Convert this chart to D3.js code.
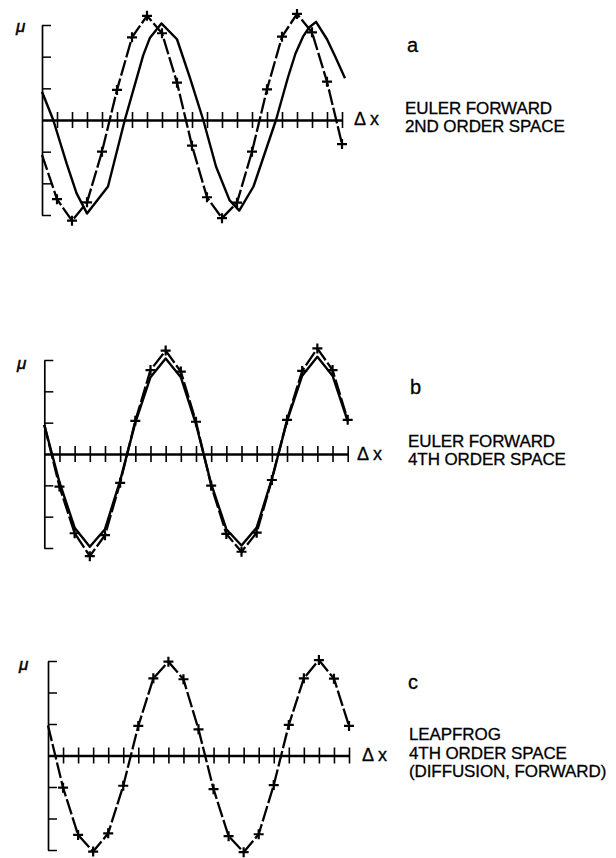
<!DOCTYPE html>
<html>
<head>
<meta charset="utf-8">
<script src="https://cdn.jsdelivr.net/npm/d3@7"></script>
<style>
  html, body { margin: 0; padding: 0; background: #fff; }
  svg { display: block; }
  text { font-family: "Liberation Sans", Arial, Helvetica, sans-serif; fill: #000; }
</style>
</head>
<body>
<svg id="chart" width="616" height="858"></svg>
<script>
// Grid steps along x (in units of Δx) and the value ticks on the μ axis
const steps = d3.range(0, 21);
const xTickSteps = d3.range(1, 21);
const muTicks = [-3, -2, -1, 1, 2, 3];

// (a) Euler forward, 2nd order space: numerical solution at each grid step
const aNumeric = [-1.1, -2.5, -3.18, -2.6, -1.0, 0.95, 2.61, 3.29, 2.74, 1.18, -0.81,
                  -2.44, -3.1, -2.61, -1.0, 0.97, 2.63, 3.35, 2.77, 1.21, -0.76];
// (a) continuous curve, sampled at its own x positions
const aCurveX = [0, 0.75, 1.64, 2.3, 3.0, 4.4, 5.52, 6.3, 6.75, 7.2, 7.96, 9.0, 9.87, 10.75,
                 11.6, 12.5, 13.15, 14.1, 15.6, 16.4, 16.9, 17.4, 17.8, 18.27, 19.0, 19.6, 20.2];
const aCurveY = [0.89, 0, -1.37, -2.31, -2.95, -2.1, 0, 1.3, 2.05, 2.6, 3.05, 2.55, 1.32, 0,
                 -1.47, -2.53, -2.86, -2.1, 0, 1.35, 2.1, 2.63, 2.92, 3.1, 2.55, 1.95, 1.32];

// (b) Euler forward, 4th order space
const bNumeric = [0.93, -1.04, -2.53, -3.26, -2.59, -0.92, 1.06, 2.68, 3.3, 2.63, 1.03,
                  -1.01, -2.55, -3.12, -2.51, -0.83, 1.09, 2.65, 3.37, 2.68, 1.09];
const bCurve = [0.93, -0.9, -2.35, -2.96, -2.4, -0.85, 1.0, 2.45, 3.05, 2.45, 0.95,
                -0.95, -2.4, -2.92, -2.35, -0.8, 1.05, 2.5, 3.1, 2.5, 1.05];

// (c) Leapfrog, 4th order space (diffusion forward)
const cNumeric = [0.95, -1.02, -2.52, -3.05, -2.47, -0.96, 0.94, 2.45, 2.98, 2.42, 0.83,
                  -1.07, -2.56, -3.07, -2.5, -0.94, 0.97, 2.45, 3.03, 2.44, 0.94];

const panelLetters = ["a", "b", "c"];
const panelCaptions = [
  ["EULER FORWARD", "2ND ORDER SPACE"],
  ["EULER FORWARD", "4TH ORDER SPACE"],
  ["LEAPFROG", "4TH ORDER SPACE", "(DIFFUSION, FORWARD)"]
];

const svg = d3.select("#chart");

const panels = [
  { x: [42, 342], y: [215, 25], numeric: aNumeric,
    curve: aCurveX.map((v, i) => [v, aCurveY[i]]),
    mu: [16, 32], letter: [407, 52], caption: [405, 114], lineGap: 18, delta: [354, 125] },
  { x: [44.3, 347.7], y: [548, 360], numeric: bNumeric,
    curve: steps.map((s, i) => [s, bCurve[i]]),
    mu: [17, 369], letter: [410, 394], caption: [408, 447], lineGap: 17.5, delta: [357, 460] },
  { x: [48, 349], y: [850, 661], numeric: cNumeric,
    curve: null,
    mu: [19, 670], letter: [408, 689], caption: [409, 740], lineGap: 18.5, delta: [362, 761] }
];

panels.forEach((p, pi) => {
  const x = d3.scaleLinear().domain([0, 20]).range(p.x);
  const y = d3.scaleLinear().domain([-3, 3]).range(p.y);
  const g = svg.append("g");

  // μ axis: vertical bracket with short ticks to the right
  const yAxis = d3.axisRight(y).tickValues(muTicks).tickSize(9).tickSizeOuter(0).tickFormat("");
  const ya = g.append("g").attr("transform", `translate(${x(0)},0)`).call(yAxis);
  ya.select(".domain").attr("stroke", "#000").attr("stroke-width", 1.7);
  ya.selectAll(".tick line").attr("stroke", "#000").attr("stroke-width", 1.5);

  // Δx axis through μ = 0 with ticks crossing the line
  const xAxis = d3.axisBottom(x).tickValues(xTickSteps).tickSize(8).tickSizeOuter(0).tickFormat("");
  const xa = g.append("g").attr("transform", `translate(0,${y(0)})`).call(xAxis);
  xa.select(".domain").attr("stroke", "#000").attr("stroke-width", 2.3);
  xa.selectAll(".tick line").attr("y1", -8).attr("stroke", "#000").attr("stroke-width", 1.6);

  // continuous curve
  if (p.curve) {
    const line = d3.line().x(d => x(d[0])).y(d => y(d[1]));
    g.append("path").datum(p.curve).attr("d", line)
      .attr("fill", "none").attr("stroke", "#000").attr("stroke-width", 2.4)
      .attr("stroke-linejoin", "round");
  }

  // numerical solution: dashed line joining the grid values, with + markers
  const pts = steps.map((s, i) => [s, p.numeric[i]]);
  const nline = d3.line().x(d => x(d[0])).y(d => y(d[1]));
  g.append("path").datum(pts).attr("d", nline)
    .attr("fill", "none").attr("stroke", "#000").attr("stroke-width", 2.3)
    .attr("stroke-dasharray", "16,3");

  g.selectAll(".mk").data(pts.slice(1)).join("path")
    .attr("d", "M-5,0H5M0,-5V5")
    .attr("transform", d => `translate(${x(d[0])},${y(d[1])})`)
    .attr("fill", "none").attr("stroke", "#000").attr("stroke-width", 2.2);

  // labels
  g.append("text").attr("x", p.mu[0]).attr("y", p.mu[1])
    .attr("font-size", 17).attr("font-style", "italic")
    .attr("stroke", "#000").attr("stroke-width", 0.5).text("μ");
  g.append("text").attr("x", p.delta[0]).attr("y", p.delta[1])
    .attr("font-size", 18).attr("stroke", "#000").attr("stroke-width", 0.3).text("Δ x");
  g.append("text").attr("x", p.letter[0]).attr("y", p.letter[1])
    .attr("font-size", 20).attr("stroke", "#000").attr("stroke-width", 0.3).text(panelLetters[pi]);
  panelCaptions[pi].forEach((c, li) => {
    g.append("text").attr("x", p.caption[0]).attr("y", p.caption[1] + li * p.lineGap)
      .attr("font-size", 17).attr("letter-spacing", -0.1)
      .attr("stroke", "#000").attr("stroke-width", 0.3).text(c);
  });
});
</script>
</body>
</html>
